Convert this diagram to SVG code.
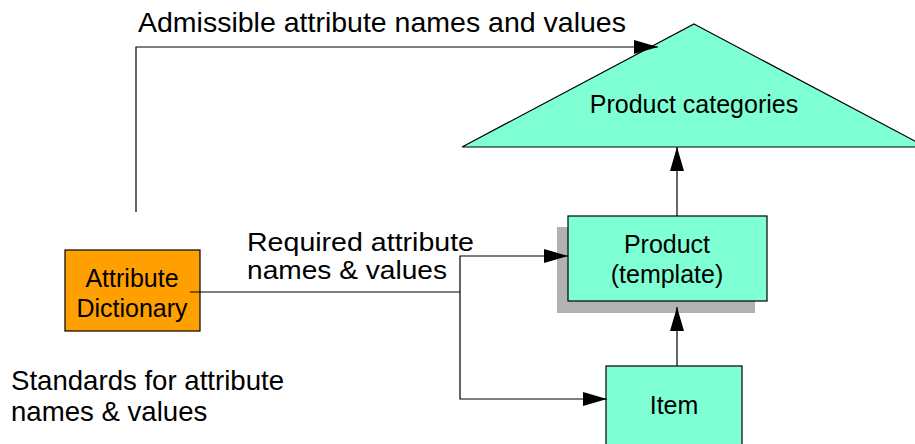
<svg xmlns="http://www.w3.org/2000/svg" width="915" height="444" viewBox="0 0 915 444">
  <style>
    .node { stroke: #000; stroke-width: 1.2; }
    .teal { fill: #7FFFD4; }
    .orange { fill: #FF9F00; }
    .shadow { fill: #B2B2B2; }
    .lbl { font-family: "Liberation Sans", Arial, sans-serif; fill: #000; }
    .big { font-size: 27.6px; }
    .mid { font-size: 25px; }
    .conn { fill: none; stroke: #000; stroke-width: 1.2; }
  </style>
  <defs>
    <marker id="arrow" markerUnits="userSpaceOnUse" markerWidth="25" markerHeight="14" refX="24" refY="7" orient="auto">
      <path d="M0,0 L24,7 L0,14 z" fill="#000"/>
    </marker>
  </defs>
  <rect width="915" height="444" fill="#fff"/>

  <!-- free-standing labels -->
  <text class="lbl" font-size="28.5" x="138" y="32">Admissible attribute names and values</text>
  <text class="lbl" font-size="26.5" x="247" y="251" textLength="227" lengthAdjust="spacingAndGlyphs">Required attribute</text>
  <text class="lbl" font-size="26.5" x="247" y="279" textLength="200" lengthAdjust="spacingAndGlyphs">names &amp; values</text>
  <text class="lbl big" x="11" y="390">Standards for attribute</text>
  <text class="lbl big" x="11" y="421">names &amp; values</text>

  <g id="product-categories">
    <polygon class="node teal" points="694,24 926,147 462,147"/>
    <text class="lbl mid" x="694" y="113" text-anchor="middle">Product categories</text>
  </g>

  <g id="product">
    <rect class="shadow" x="557" y="227" width="198" height="86"/>
    <rect class="node teal" x="568" y="216" width="199" height="85"/>
    <text class="lbl mid" x="667" y="253" text-anchor="middle">Product</text>
    <text class="lbl mid" x="667" y="283" text-anchor="middle">(template)</text>
  </g>

  <g id="item">
    <rect class="node teal" x="606" y="366" width="136" height="100"/>
    <text class="lbl mid" x="674" y="414" text-anchor="middle">Item</text>
  </g>

  <g id="attribute-dictionary">
    <rect class="node orange" x="65" y="250" width="135" height="81"/>
    <text class="lbl mid" x="132" y="287" text-anchor="middle">Attribute</text>
    <text class="lbl mid" x="132" y="317" text-anchor="middle">Dictionary</text>
  </g>

  <g id="connectors">
    <polyline class="conn" points="136,212 136,47 658,47" marker-end="url(#arrow)"/>
    <line class="conn" x1="190" y1="292" x2="460" y2="292"/>
    <polyline class="conn" points="460,292 460,256 568,256" marker-end="url(#arrow)"/>
    <polyline class="conn" points="460,292 460,399 607,399" marker-end="url(#arrow)"/>
    <line class="conn" x1="677" y1="216" x2="677" y2="147" marker-end="url(#arrow)"/>
    <line class="conn" x1="677" y1="366" x2="677" y2="307" marker-end="url(#arrow)"/>
  </g>
</svg>
